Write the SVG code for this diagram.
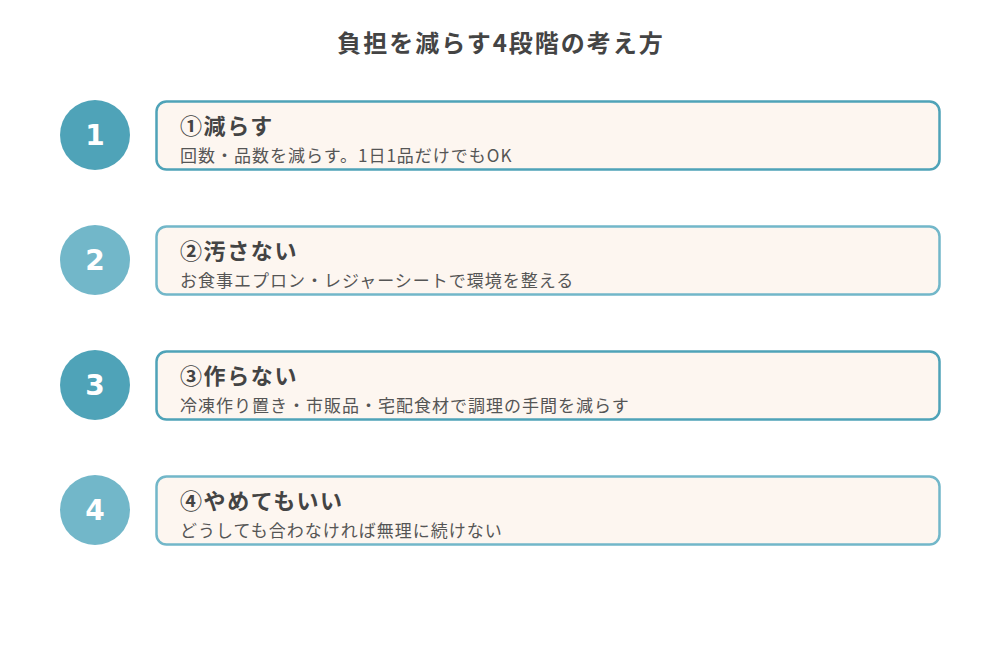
<svg xmlns="http://www.w3.org/2000/svg" width="1000" height="650" viewBox="0 0 1000 650">
<style>
.title{font-family:"Noto Sans CJK JP","Noto Sans",sans-serif;font-size:24px;font-weight:bold;fill:#444;text-anchor:middle;letter-spacing:2px}
.num{font-family:"DejaVu Sans","Noto Sans",sans-serif;font-size:28px;font-weight:bold;fill:#fff;text-anchor:middle}
.box{fill:#fdf6f0;stroke-width:2.5}
.h{font-family:"Noto Sans CJK JP","Noto Sans",sans-serif;font-size:22px;font-weight:bold;fill:#444;letter-spacing:1.6px}
.s{font-family:"Noto Sans CJK JP","Noto Sans",sans-serif;font-size:17px;fill:#555;letter-spacing:1px}
.dark{fill:#4fa3b8}
.light{fill:#72b7c9}
.bd{stroke:#4fa3b8}
.bl{stroke:#72b7c9}
</style>
<rect width="1000" height="650" fill="#fff"/>
<text class="title" x="501" y="52">負担を減らす4段階の考え方</text>
<g id="step1">
<circle class="dark" cx="95" cy="135" r="35"/>
<text class="num" x="95" y="145">1</text>
<rect class="box bd" x="156.5" y="101.5" width="783" height="68" rx="10"/>
<text class="h" x="180" y="134">①減らす</text>
<text class="s" x="180" y="162">回数・品数を減らす。1日1品だけでもOK</text>
</g>
<g id="step2">
<circle class="light" cx="95" cy="260" r="35"/>
<text class="num" x="95" y="270">2</text>
<rect class="box bl" x="156.5" y="226.5" width="783" height="68" rx="10"/>
<text class="h" x="180" y="259">②汚さない</text>
<text class="s" x="180" y="287">お食事エプロン・レジャーシートで環境を整える</text>
</g>
<g id="step3">
<circle class="dark" cx="95" cy="385" r="35"/>
<text class="num" x="95" y="395">3</text>
<rect class="box bd" x="156.5" y="351.5" width="783" height="68" rx="10"/>
<text class="h" x="180" y="384">③作らない</text>
<text class="s" x="180" y="412">冷凍作り置き・市販品・宅配食材で調理の手間を減らす</text>
</g>
<g id="step4">
<circle class="light" cx="95" cy="510" r="35"/>
<text class="num" x="95" y="520">4</text>
<rect class="box bl" x="156.5" y="476.5" width="783" height="68" rx="10"/>
<text class="h" x="180" y="509">④やめてもいい</text>
<text class="s" x="180" y="537">どうしても合わなければ無理に続けない</text>
</g>
<g id="connectors"></g>
</svg>
